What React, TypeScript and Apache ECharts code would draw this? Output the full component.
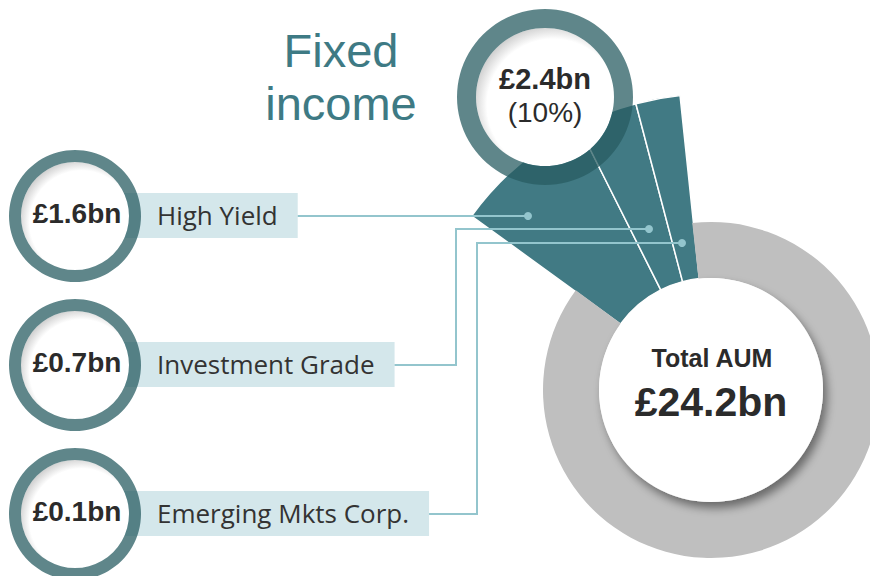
import React, { useEffect, useRef } from 'react';
import * as echarts from 'echarts';

// ---- data ----
const TOTAL_AUM = 24.2; // £bn
const FIXED_INCOME = 2.4; // £bn
const FIXED_INCOME_PCT = 10; // %
const SUB_CATEGORIES = ['High Yield', 'Investment Grade', 'Emerging Mkts Corp.'];
const SUB_VALUES = [1.6, 0.7, 0.1]; // £bn
const TITLE_LINES = ['Fixed', 'income'];

// ---- layout / style ----
const W = 870;
const H = 576;
const CX = 711;
const CY = 390;
const R_IN = 112;
const R_RING = 168;
const R_WEDGE = 296;
const WEDGE_START = 144; // degrees
const WEDGE_END = 96;
const MIN_SLICE_ANGLE = 8.7;
const TEAL = '#417a84';
const GREY = '#bfbfbf';
const RING = 'rgba(39,92,97,0.74)';
const LINE = '#93c5cd';
const BOX = '#d4e7eb';
const DARK = '#2b2b2b';
const REG_FONT = '"Open Sans", "Liberation Sans", sans-serif';
const SANS = '"Liberation Sans", Arial, sans-serif';

const ROW_Y = [216, 365, 514];
const ROW_CX = 75;
const LABEL_X = 157;
const CONNECTORS = [
  { elbowX: null as number | null, dotX: 528, dotY: 216 },
  { elbowX: 456, dotX: 649, dotY: 229 },
  { elbowX: 477, dotX: 682, dotY: 243 },
];

// Exploded wedge: slices share the wedge by value, with a minimum angle
// for the smallest ones (same rule as ECharts' minAngle).
function sliceAngles(values: number[], span: number, minA: number): number[] {
  const sum = values.reduce((a, b) => a + b, 0);
  const small = values.map((v) => (v / sum) * span < minA);
  const rest = span - small.filter(Boolean).length * minA;
  const bigSum = values.reduce((a, v, i) => (small[i] ? a : a + v), 0);
  return values.map((v, i) => (small[i] ? minA : (v / bigSum) * rest));
}

function measure(text: string, font: string): number {
  const c = document.createElement('canvas').getContext('2d');
  if (!c) return text.length * 13;
  c.font = font;
  return c.measureText(text).width;
}

const innerFill = {
  type: 'radial',
  x: 0.56,
  y: 0.56,
  r: 0.585,
  colorStops: [
    { offset: 0, color: '#ffffff' },
    { offset: 0.82, color: '#ffffff' },
    { offset: 1, color: '#cfcfcf' },
  ],
};

const center = (extra: any) => ({ textAlign: 'center', textVerticalAlign: 'middle', align: 'center', verticalAlign: 'middle', ...extra });

export default function App() {
  const ref = useRef<HTMLDivElement>(null);
  useEffect(() => {
    if (!ref.current) return;
    const chart = echarts.init(ref.current, null, { renderer: 'svg', width: W, height: H });

    const els: any[] = [];
    // centre white disc with shadow
    els.push({
      type: 'circle', z: 10, silent: true,
      shape: { cx: CX, cy: CY, r: R_IN },
      style: { fill: '#fff', shadowBlur: 10, shadowOffsetX: 4, shadowOffsetY: 6, shadowColor: 'rgba(0,0,0,0.45)' },
    });
    els.push({ type: 'text', z: 12, x: CX + 1, y: 358, style: center({ text: 'Total AUM', font: `bold 25px ${SANS}`, fill: DARK }) });
    els.push({ type: 'text', z: 12, x: CX, y: 402, style: center({ text: `£${TOTAL_AUM.toFixed(1)}bn`, font: `bold 41px ${SANS}`, fill: DARK }) });

    // title
    els.push({
      type: 'text', z: 12, x: 341, y: 77,
      style: center({ text: TITLE_LINES.join('\n'), font: `47px ${SANS}`, lineHeight: 52.5, fill: '#3e7a84' }),
    });

    // top summary circle
    els.push({ type: 'circle', z: 14, shape: { cx: 545, cy: 97, r: 69 }, style: { fill: innerFill } });
    els.push({ type: 'ring', z: 15, shape: { cx: 545, cy: 97, r: 88, r0: 69 }, style: { fill: RING } });
    els.push({ type: 'text', z: 16, x: 545, y: 78.5, style: center({ text: `£${FIXED_INCOME.toFixed(1)}bn`, font: `bold 29px ${SANS}`, fill: DARK }) });
    els.push({ type: 'text', z: 16, x: 545, y: 112, style: center({ text: `(${FIXED_INCOME_PCT}%)`, font: `28px ${SANS}`, fill: DARK }) });

    // left rows
    SUB_CATEGORIES.forEach((name, i) => {
      const y = ROW_Y[i];
      const tw = measure(name, `26px ${REG_FONT}`);
      const boxRight = LABEL_X + tw + 20;
      els.push({ type: 'rect', z: 11, shape: { x: 110, y: y - 23, width: boxRight - 110, height: 45 }, style: { fill: BOX } });
      els.push({
        type: 'text', z: 12, x: LABEL_X, y: y - 1,
        style: { text: name, font: `26px ${REG_FONT}`, fill: '#333', textAlign: 'left', textVerticalAlign: 'middle', align: 'left', verticalAlign: 'middle' },
      });
      els.push({ type: 'circle', z: 13, shape: { cx: ROW_CX, cy: y, r: 54 }, style: { fill: innerFill } });
      els.push({ type: 'ring', z: 14, shape: { cx: ROW_CX, cy: y, r: 66, r0: 54 }, style: { fill: RING } });
      els.push({ type: 'text', z: 15, x: ROW_CX + 2, y: y - 3, style: center({ text: `£${SUB_VALUES[i].toFixed(1)}bn`, font: `bold 28px ${SANS}`, fill: DARK }) });
      const c = CONNECTORS[i];
      const pts = c.elbowX == null
        ? [[boxRight, y], [c.dotX, y]]
        : [[boxRight, y], [c.elbowX, y], [c.elbowX, c.dotY], [c.dotX, c.dotY]];
      els.push({ type: 'polyline', z: 12, shape: { points: pts }, style: { stroke: LINE, lineWidth: 2, fill: null } });
      els.push({ type: 'circle', z: 12, shape: { cx: c.dotX, cy: c.elbowX == null ? y : c.dotY, r: 4 }, style: { fill: LINE } });
    });

    const angles = sliceAngles(SUB_VALUES, WEDGE_START - WEDGE_END, MIN_SLICE_ANGLE);

    chart.setOption({
      animation: false,
      series: [
        {
          type: 'pie',
          name: 'Fixed income',
          z: 2,
          center: [CX, CY],
          radius: [R_IN, R_WEDGE],
          startAngle: WEDGE_START,
          endAngle: WEDGE_END,
          clockwise: true,
          avoidLabelOverlap: false,
          label: { show: false },
          labelLine: { show: false },
          emphasis: { disabled: true },
          itemStyle: { color: TEAL, borderColor: '#ffffff', borderWidth: 1.5 },
          data: SUB_CATEGORIES.map((n, i) => ({ name: n, value: angles[i], amount: SUB_VALUES[i] })),
        },
        {
          type: 'pie',
          name: 'Total AUM',
          z: 3,
          center: [CX, CY],
          radius: [R_IN, R_RING],
          startAngle: WEDGE_END + 0.4,
          endAngle: WEDGE_START - 0.4 - 360,
          clockwise: true,
          label: { show: false },
          labelLine: { show: false },
          emphasis: { disabled: true },
          itemStyle: { color: GREY, borderWidth: 0 },
          data: [{ name: 'Other assets', value: +(TOTAL_AUM - FIXED_INCOME).toFixed(1) }],
        },
      ],
      graphic: { elements: els },
    });
    return () => chart.dispose();
  }, []);
  return <div ref={ref} style={{ position: 'absolute', left: 0, top: 0, width: W, height: H, background: '#fff' }} />;
}
